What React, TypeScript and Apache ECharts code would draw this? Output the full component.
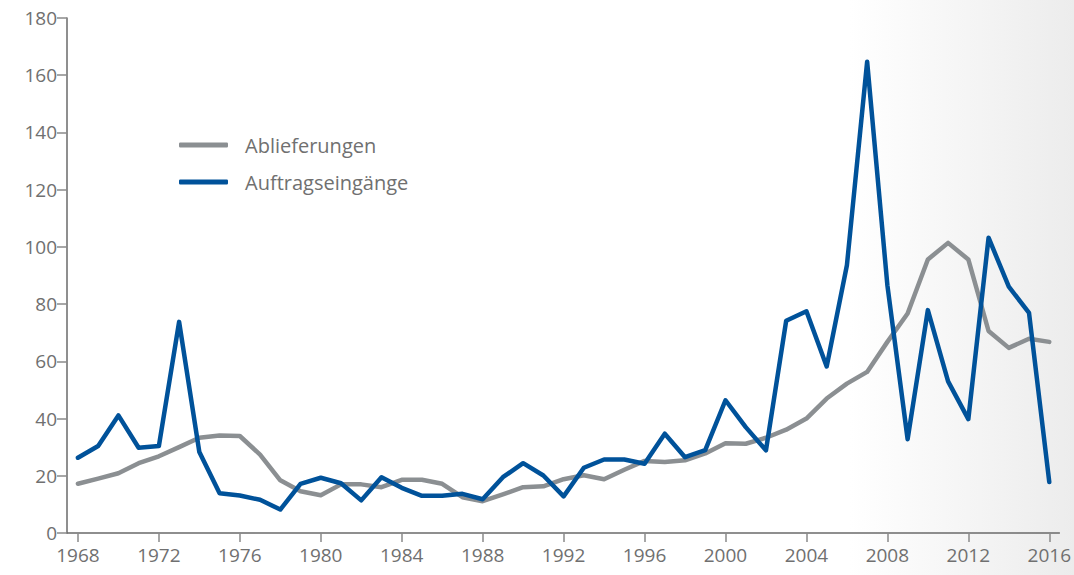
import React, { useEffect, useRef } from "react";
import * as echarts from "echarts";

const years: number[] = [];
for (let y = 1968; y <= 2016; y++) years.push(y);

const tickYears = [1968, 1972, 1976, 1980, 1984, 1988, 1992, 1996, 2000, 2004, 2008, 2012, 2016];

const ablieferungen = [
  17.2, 19, 20.9, 24.4, 26.8, 30, 33.3, 34.1, 33.9, 27.4,
  18.4, 14.6, 13.2, 17, 17, 16, 18.6, 18.6, 17.2, 12.5,
  11.1, 13.5, 16, 16.3, 18.8, 20.2, 18.8, 22.1, 25.2, 24.8,
  25.4, 27.8, 31.4, 31.2, 33.3, 36.1, 40, 47, 52.2, 56.3,
  66.8, 76.7, 95.6, 101.4, 95.6, 70.6, 64.7, 67.9, 66.8,
];

const auftragseingaenge = [
  26.3, 30.4, 41.1, 29.8, 30.4, 73.8, 28.3, 13.9, 13.1, 11.6,
  8.2, 17.2, 19.3, 17.4, 11.4, 19.5, 15.8, 13, 13, 13.7,
  11.8, 19.5, 24.4, 20.1, 12.8, 22.8, 25.7, 25.7, 24.2, 34.7,
  26.5, 29, 46.4, 37, 28.9, 74.2, 77.5, 58.2, 93.6, 164.7,
  86.6, 32.8, 77.9, 53, 39.8, 103.2, 86.1, 76.9, 17.8,
];

const GRAY = "#8b8f92";
const BLUE = "#00529a";
const TEXT = "#707070";
const FONT = "'Open Sans', sans-serif";

export default function App() {
  const ref = useRef<HTMLDivElement>(null);
  useEffect(() => {
    if (!ref.current) return;
    const chart = echarts.init(ref.current, undefined, { renderer: "svg" });
    const toPairs = (vals: number[]) => years.map((y, i) => [y, vals[i]]);
    chart.setOption({
      animation: false,
      backgroundColor: "#ffffff",
      textStyle: { fontFamily: FONT },
      graphic: [
        {
          type: "rect",
          z: -10,
          silent: true,
          shape: { x: 850, y: 0, width: 224, height: 575 },
          style: {
            fill: new echarts.graphic.LinearGradient(0, 0, 1, 0, [
              { offset: 0, color: "#ffffff" },
              { offset: 1, color: "#ececec" },
            ]),
          },
        },
      ],
      grid: { left: 67, right: 14, top: 18, bottom: 42, containLabel: false },
      legend: {
        orient: "vertical",
        left: 174,
        top: 129,
        icon: "roundRect",
        itemWidth: 49,
        itemHeight: 5,
        itemGap: 15,
        textStyle: {
          color: TEXT,
          fontSize: 20,
          fontFamily: FONT,
          lineHeight: 22,
          padding: [0, 0, 0, 12],
        },
        data: ["Ablieferungen", "Auftragseingänge"],
      },
      xAxis: {
        type: "value",
        min: 1967.46,
        max: 2016.5,
        splitLine: { show: false },
        axisLine: { show: true, lineStyle: { color: "#6a6a6a", width: 1.5 } },
        axisTick: {
          show: true,
          customValues: tickYears,
          length: 9,
          lineStyle: { color: "#8a8a8a", width: 1.5 },
        },
        axisLabel: {
          customValues: tickYears,
          color: TEXT,
          fontSize: 19,
          fontFamily: FONT,
          margin: 12,
          formatter: (v: number) => String(v),
        },
      },
      yAxis: {
        type: "value",
        min: 0,
        max: 180,
        interval: 20,
        splitLine: { show: false },
        axisLine: { show: true, lineStyle: { color: "#6a6a6a", width: 1.5 } },
        axisTick: { show: true, length: 10, lineStyle: { color: "#8a8a8a", width: 1.5 } },
        axisLabel: { color: TEXT, fontSize: 19, fontFamily: FONT, margin: 10 },
      },
      series: [
        {
          name: "Ablieferungen",
          type: "line",
          data: toPairs(ablieferungen),
          showSymbol: false,
          symbol: "none",
          itemStyle: { color: GRAY },
          lineStyle: { color: GRAY, width: 4.5, join: "round", cap: "round" },
          z: 2,
        },
        {
          name: "Auftragseingänge",
          type: "line",
          data: toPairs(auftragseingaenge),
          showSymbol: false,
          symbol: "none",
          itemStyle: { color: BLUE },
          lineStyle: { color: BLUE, width: 4.5, join: "round", cap: "round" },
          z: 3,
        },
      ],
    });
    return () => chart.dispose();
  }, []);
  return (
    <div
      ref={ref}
      style={{ position: "fixed", left: 0, top: 0, width: 1074, height: 575 }}
    />
  );
}
